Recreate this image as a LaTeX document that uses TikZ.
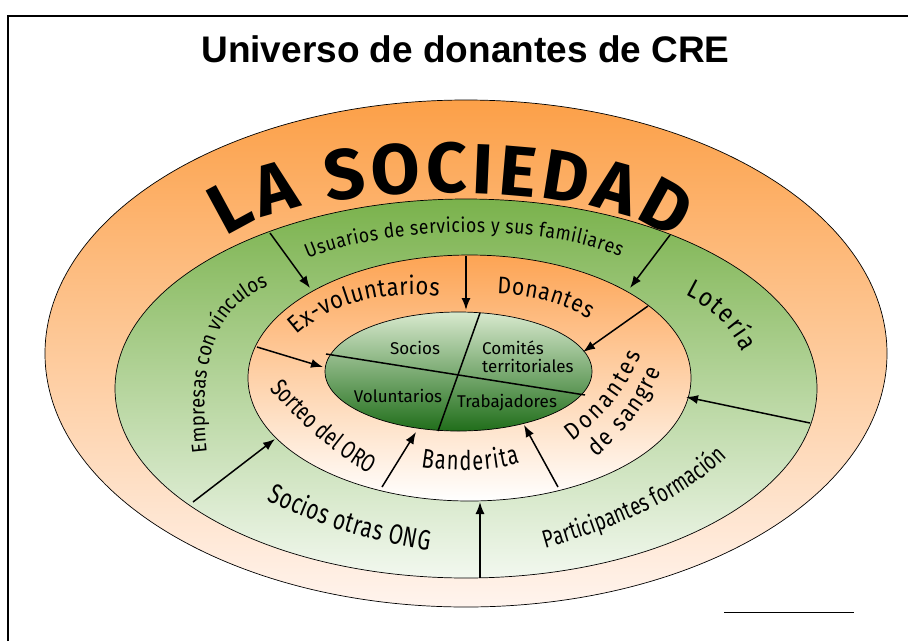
\documentclass[tikz,border=0pt]{standalone}
\usepackage{fontspec}
\setmainfont{Liberation Sans}
\newfontfamily\comica{Fira Sans}
\newfontfamily\comicamedia[FakeStretch=0.88]{Fira Sans}
\newfontfamily\comicaestrecha[FakeStretch=0.74]{Fira Sans}
\usetikzlibrary{shapes.geometric,arrows.meta,decorations.text}

\definecolor{naranja}{RGB}{252,160,72}
\definecolor{naranjaclaro}{RGB}{255,244,238}
\definecolor{verde}{RGB}{122,178,76}
\definecolor{verdeclaro}{RGB}{242,248,239}
\definecolor{naranjaint}{RGB}{253,164,84}
\definecolor{verdenucleo}{RGB}{216,233,206}
\definecolor{verdeoscuro}{RGB}{32,110,26}

\newcommand{\rotulo}[1]{\comica\fontsize{#1}{#1}\selectfont}
\newcommand{\rotulomedio}[1]{\comicamedia\fontsize{#1}{#1}\selectfont}
\newcommand{\rotuloestrecho}[1]{\comicaestrecha\fontsize{#1}{#1}\selectfont}

\begin{document}
\begin{tikzpicture}[x=1pt,y=-1pt,
    anillo/.style={draw,ellipse,inner sep=0pt,line width=0.7pt},
    flecha/.style={line width=1.5pt,-{Latex[length=12pt,width=9pt]}},
    sector/.style={font=\rotulo{17},inner sep=1pt}]
    \useasboundingbox (0,0) rectangle (908,641);

    \draw[line width=1.6pt] (8,641) -- (8,16) -- (908,16);
    \draw[line width=0.8pt] (724,612) -- (854,612);

    \node[font=\bfseries\fontsize{37}{40}\selectfont,anchor=base] (titulo) at (465.5,62) {Universo de donantes de CRE};

    \node[anillo,minimum width=842pt,minimum height=507pt,top color=naranja,bottom color=naranjaclaro] (sociedad) at (466,353.5) {};
    \node[anillo,minimum width=702pt,minimum height=379pt,top color=verde,bottom color=verdeclaro] (entorno) at (466,388.5) {};
    \node[anillo,minimum width=443pt,minimum height=246pt,top color=naranjaint,bottom color=white] (cercano) at (469.5,378) {};
    \node[anillo,minimum width=267pt,minimum height=119pt,top color=verdenucleo,bottom color=verdeoscuro] (nucleo) at (458.5,371.5) {};

    \coordinate (a1o) at (270,233);  \coordinate (a1i) at (310,288);
    \coordinate (a2o) at (670,235);  \coordinate (a2i) at (630,288);
    \coordinate (a3o) at (810,423);  \coordinate (a3i) at (686,397);
    \coordinate (a4o) at (480,578);  \coordinate (a4i) at (480,502);
    \coordinate (a5o) at (193,502);  \coordinate (a5i) at (275,439);
    \coordinate (b1o) at (466,256);  \coordinate (b1i) at (466,310);
    \coordinate (b2o) at (648,306);  \coordinate (b2i) at (583,352);
    \coordinate (b3o) at (558,487);  \coordinate (b3i) at (524,425);
    \coordinate (b4o) at (382,487);  \coordinate (b4i) at (416,432);
    \coordinate (b5o) at (257,347);  \coordinate (b5i) at (323,367);
    \coordinate (c1) at (326,354);   \coordinate (c2) at (585,395);
    \coordinate (c3) at (480,313);   \coordinate (c4) at (438,431);

    \draw[flecha] (a1o) -- (a1i);
    \draw[flecha] (a2o) -- (a2i);
    \draw[flecha] (a3o) -- (a3i);
    \draw[flecha] (a4o) -- (a4i);
    \draw[flecha] (a5o) -- (a5i);
    \draw[flecha] (b1o) -- (b1i);
    \draw[flecha] (b2o) -- (b2i);
    \draw[flecha] (b3o) -- (b3i);
    \draw[flecha] (b4o) -- (b4i);
    \draw[flecha] (b5o) -- (b5i);
    \draw[line width=1.5pt] (c1) -- (c2);
    \draw[line width=1.5pt] (c3) -- (c4);

    \node[sector] (socios) at (415,348) {Socios};
    \node[sector,align=left,anchor=west] (comites) at (481,357) {Comités\\[1pt]territoriales};
    \node[sector] (voluntarios) at (398,396) {Voluntarios};
    \node[sector] (trabajadores) at (507,403) {Trabajadores};

    \path[decorate,decoration={text along path,text align=fit to path,text={|\rotulo{71}\bfseries|LA SOCIEDAD}}]
        (226,238) .. controls (298,178) and (602,176) .. (674,242);
    \path[decorate,decoration={text along path,text align=fit to path,text={|\rotulomedio{20}|Usuarios de servicios y sus familiares}}]
        (308,259) .. controls (380,227) and (540,221) .. (620,257);
    \path[decorate,decoration={text along path,text align=fit to path,text={|\rotulomedio{21}|Empresas con vínculos}}]
        (207,452) .. controls (198,370) and (212,308) .. (267,287);
    \path[decorate,decoration={text along path,text align=fit to path,text={|\rotulomedio{26}|Lotería}}]
        (685,295) .. controls (710,307) and (729,325) .. (743,352);
    \path[decorate,decoration={text along path,text align=fit to path,text={|\rotuloestrecho{25}|Participantes formación}}]
        (545,548) .. controls (620,527) and (682,500) .. (727,457);
    \path[decorate,decoration={text along path,text align=fit to path,text={|\rotuloestrecho{28}|Socios otras ONG}}]
        (267,500) .. controls (320,526) and (370,541) .. (429,551);
    \path[decorate,decoration={text along path,text align=fit to path,text={|\rotulomedio{25}|Ex-voluntarios}}]
        (297,335) .. controls (330,305) and (380,290) .. (439,296);
    \path[decorate,decoration={text along path,text align=fit to path,text={|\rotulomedio{24}|Donantes}}]
        (497,294) .. controls (530,295) and (560,302) .. (589,319);
    \path[decorate,decoration={text along path,text align=fit to path,text={|\rotulomedio{24}|Donantes}}]
        (572,441) .. controls (600,420) and (625,395) .. (641,354);
    \path[decorate,decoration={text along path,text align=fit to path,text={|\rotulomedio{24}|de sangre}}]
        (596,457) .. controls (620,436) and (645,410) .. (661,371);
    \path[decorate,decoration={text along path,text align=fit to path,text={|\rotuloestrecho{27}|Banderita}}]
        (421,467) .. controls (450,472) and (490,472) .. (520,463);
    \path[decorate,decoration={text along path,text align=fit to path,text={|\rotuloestrecho{25}|Sorteo del ORO}}]
        (270,389) .. controls (300,422) and (330,452) .. (370,474);
\end{tikzpicture}
\end{document}
